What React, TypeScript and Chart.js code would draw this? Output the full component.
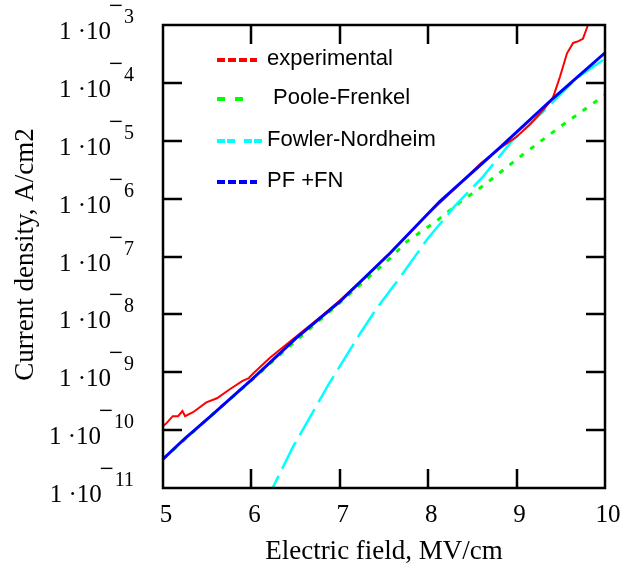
import React, { useEffect, useRef } from "react";
import { Chart, registerables } from "chart.js";

Chart.register(...registerables);

// Electric field (MV/cm) and current density (A/cm2)
const expX = [5.0, 5.04, 5.11, 5.17, 5.22, 5.25, 5.34, 5.49, 5.61, 5.76, 5.9, 5.97, 6.02, 6.21, 6.5, 6.8, 7.0, 7.3, 7.6, 8.0, 8.3, 8.59, 8.8, 9.0, 9.15, 9.3, 9.41, 9.49, 9.57, 9.64, 9.7, 9.75, 9.8, 9.85];
const expY = [1.17e-10, 1.32e-10, 1.74e-10, 1.74e-10, 2.14e-10, 1.74e-10, 2.04e-10, 3.02e-10, 3.55e-10, 5.13e-10, 7.08e-10, 7.94e-10, 9.5e-10, 1.78e-9, 4.07e-9, 9.6e-9, 1.74e-8, 4.57e-8, 1.29e-7, 5.5e-7, 1.48e-6, 4.0e-6, 7.24e-6, 1.17e-5, 1.91e-5, 3.39e-5, 5.5e-5, 1.26e-4, 3.24e-4, 4.9e-4, 5.25e-4, 5.75e-4, 9.33e-4, 1.78e-3];

const pfX = [5.0, 5.5, 6.0, 6.5, 7.0, 7.34, 7.57, 7.76, 8.1, 8.36, 8.62, 9.07, 9.5, 10.0];
const pfY = [3.16e-11, 1.55e-10, 7.24e-10, 3.47e-9, 1.58e-8, 4.57e-8, 9.33e-8, 1.82e-7, 4.17e-7, 8.71e-7, 1.66e-6, 5.75e-6, 1.78e-5, 6.17e-5];

const fnX = [6.15, 6.24, 6.47, 6.87, 7.23, 7.42, 7.7, 8.0, 8.3, 8.62, 8.94, 9.34, 9.68, 10.0];
const fnY = [5.62e-12, 1.0e-11, 5.13e-11, 6.03e-10, 4.68e-9, 1.29e-8, 4.79e-8, 2.09e-7, 7.41e-7, 2.4e-6, 9.55e-6, 3.63e-5, 1.2e-4, 2.63e-4];

const sumX = [5.0, 5.25, 5.53, 6.0, 6.5, 7.0, 7.57, 8.13, 8.59, 8.81, 9.0, 9.41, 10.0];
const sumY = [3.16e-11, 7.24e-11, 1.7e-10, 7.41e-10, 3.8e-9, 1.66e-8, 1.15e-7, 8.91e-7, 3.8e-6, 7.59e-6, 1.41e-5, 5.37e-5, 3.31e-4];

const xTicks = [5, 6, 7, 8, 9, 10];
const yExponents = [-3, -4, -5, -6, -7, -8, -9, -10, -11];

const seriesLabels = ["experimental", " Poole-Frenkel", "Fowler-Nordheim", "PF +FN"];

const pts = (xs: number[], ys: number[]) => xs.map((x, i) => ({ x, y: ys[i] }));

export default function App() {
  const ref = useRef<HTMLCanvasElement>(null);

  useEffect(() => {
    const canvas = ref.current;
    if (!canvas) return;

    const legendItems = [
      { text: seriesLabels[0], color: "#ff0000", dash: [8, 3], len: 40, y: 60 },
      { text: seriesLabels[1], color: "#00ff00", dash: [8, 10], len: 26, y: 99 },
      { text: seriesLabels[2], color: "#00ffff", dash: [8, 2, 8, 9], len: 46, y: 141 },
      { text: seriesLabels[3], color: "#0000ff", dash: [8, 3], len: 40, y: 182 },
    ];

    const decor = {
      id: "decor",
      afterDraw(chart: any) {
        const c = chart.ctx as CanvasRenderingContext2D;
        const { left, right, top, bottom } = chart.chartArea;
        const xs = chart.scales.x;
        const ys = chart.scales.y;
        c.save();
        // border
        c.strokeStyle = "#000";
        c.lineWidth = 2.5;
        c.setLineDash([]);
        c.strokeRect(left, top, right - left, bottom - top);
        // inward ticks on all four sides
        const tl = 19;
        c.lineWidth = 2.5;
        c.beginPath();
        xTicks.forEach((v) => {
          if (v === 5 || v === 10) return;
          const px = Math.round(xs.getPixelForValue(v));
          c.moveTo(px, bottom);
          c.lineTo(px, bottom - tl);
          c.moveTo(px, top);
          c.lineTo(px, top + tl);
        });
        yExponents.forEach((e) => {
          if (e === -3 || e === -11) return;
          const py = Math.round(ys.getPixelForValue(Math.pow(10, e)));
          c.moveTo(left, py);
          c.lineTo(left + tl, py);
          c.moveTo(right, py);
          c.lineTo(right - tl, py);
        });
        c.stroke();

        // x tick labels
        c.fillStyle = "#000";
        c.font = "25px 'Liberation Serif', serif";
        c.textAlign = "center";
        c.textBaseline = "alphabetic";
        xTicks.forEach((v) => {
          const px = xs.getPixelForValue(v);
          c.fillText(String(v), px + 3, 522);
        });

        // y tick labels: 1·10 with superscript exponent
        yExponents.forEach((e) => {
          const py = ys.getPixelForValue(Math.pow(10, e));
          const expDigits = String(Math.abs(e));
          c.font = "20px 'Liberation Serif', serif";
          c.textAlign = "right";
          const rightEdge = 134;
          c.fillText(expDigits, rightEdge, py - 2);
          const dw = c.measureText(expDigits).width;
          const digitsLeft = rightEdge - dw;
          // superscript minus (raised bar)
          c.font = "bold 20px 'Liberation Serif', serif";
          c.save();
          c.scale(1.25, 1);
          c.fillText("\u2212", (digitsLeft - 1) / 1.25, py - 13);
          c.restore();
          c.font = "25px 'Liberation Serif', serif";
          c.textAlign = "right";
          c.fillText("1 \u00b710", digitsLeft - 13, py + 14);
        });

        // axis titles
        c.font = "27px 'Liberation Serif', serif";
        c.textAlign = "center";
        c.fillText("Electric field, MV/cm", (left + right) / 2, 559);
        c.save();
        c.translate(33, (top + bottom) / 2 - 2);
        c.rotate(-Math.PI / 2);
        c.fillText("Current density, A/cm2", 0, 0);
        c.restore();

        // legend
        legendItems.forEach((it) => {
          c.strokeStyle = it.color;
          c.lineWidth = 4;
          c.setLineDash(it.dash);
          c.beginPath();
          c.moveTo(217, it.y);
          c.lineTo(217 + it.len, it.y);
          c.stroke();
          c.setLineDash([]);
          c.fillStyle = "#000";
          c.font = "22px 'Liberation Sans', Arial, sans-serif";
          c.textAlign = "left";
          c.fillText(it.text, 267, it.y + 5);
        });
        c.restore();
      },
    };

    const chart = new Chart(canvas, {
      type: "line",
      data: {
        datasets: [
          { label: "PF +FN", data: pts(sumX, sumY), borderColor: "#0000ff", borderWidth: 3 },
          { label: "experimental", data: pts(expX, expY), borderColor: "#ff0000", borderWidth: 2 },
          { label: "Fowler-Nordheim", data: pts(fnX, fnY), borderColor: "#00ffff", borderWidth: 2.5, borderDash: [30, 8] },
          { label: "Poole-Frenkel", data: pts(pfX, pfY), borderColor: "#00ff00", borderWidth: 3, borderDash: [5, 8] },
        ],
      },
      options: {
        animation: false,
        responsive: false,
        devicePixelRatio: 1,
        layout: { padding: { left: 163, right: 19, top: 25, bottom: 80 } },
        plugins: { legend: { display: false }, tooltip: { enabled: false } },
        elements: { point: { radius: 0 }, line: { tension: 0, fill: false } },
        scales: {
          x: { type: "linear", min: 5, max: 10, display: false },
          y: { type: "logarithmic", min: 1e-11, max: 1e-3, display: false },
        },
      },
      plugins: [decor],
    });
    return () => chart.destroy();
  }, []);

  return (
    <div style={{ position: "fixed", left: 0, top: 0, width: 624, height: 568, background: "#fff" }}>
      <canvas ref={ref} width={624} height={568} style={{ display: "block" }} />
    </div>
  );
}
